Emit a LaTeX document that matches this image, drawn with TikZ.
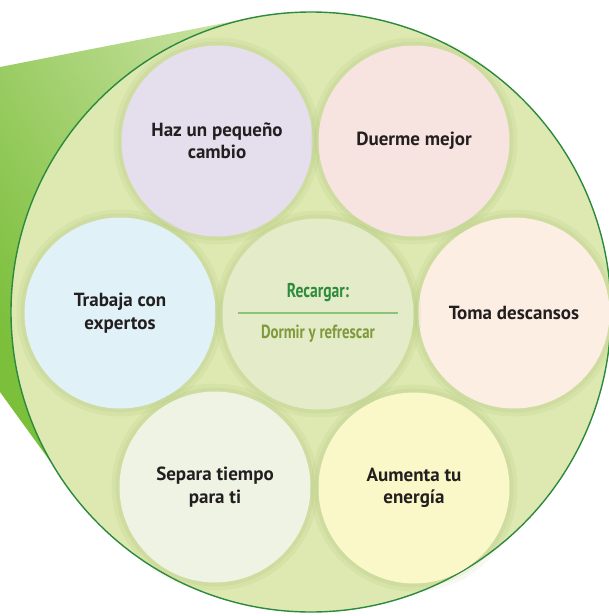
\documentclass[tikz,border=0pt]{standalone}
\usepackage{fontspec}
\setmainfont{PT Sans}
\newfontfamily\condfont{PT Sans}[FakeStretch=0.78]
\usetikzlibrary{positioning, calc}

\definecolor{poolfill}{HTML}{DDE9B0}
\definecolor{poolring}{HTML}{2B8A3E}
\definecolor{wedgedark}{HTML}{7BBF3B}
\definecolor{wedgelight}{HTML}{CDE3A6}
\definecolor{halo}{HTML}{6E8F2A}
\definecolor{lilac}{HTML}{E5DEEC}
\definecolor{rose}{HTML}{F7E4E1}
\definecolor{sky}{HTML}{E1F1F8}
\definecolor{hubfill}{HTML}{E4EBC8}
\definecolor{peach}{HTML}{FDEEE3}
\definecolor{mint}{HTML}{EEF3E4}
\definecolor{lemon}{HTML}{FAF8C8}
\definecolor{inkblack}{HTML}{231F20}
\definecolor{titlegreen}{HTML}{2D8C3C}
\definecolor{rulegreen}{HTML}{8DC277}
\definecolor{olive}{HTML}{7E9A3A}

\begin{document}
\begin{tikzpicture}[
            x=0.5pt, y=-0.5pt,
            bubble/.style={circle, minimum size=95.5pt, inner sep=2pt,
                           align=center, text=inkblack,
                           font=\bfseries\fontsize{9.5}{11.2}\selectfont,
                           preaction={draw=halo, draw opacity=0.06, line width=8pt},
                           preaction={draw=halo, draw opacity=0.07, line width=4pt}},
            pool/.style={circle, minimum size=300pt, inner sep=0pt,
                         fill=poolfill, draw=poolring, line width=0.7pt},
            hubtitle/.style={font=\condfont\bfseries\fontsize{10}{11}\selectfont, text=titlegreen},
            hubsub/.style={font=\condfont\bfseries\fontsize{9.5}{11}\selectfont, text=olive},
            rule/.style={draw=rulegreen, line width=0.7pt}
        ]

        \useasboundingbox (0,0) rectangle (609,616);
        \clip (0,0) rectangle (609,616);

        % ===== GREEN WEDGE BEHIND THE POOL =====
        \shade[top color=wedgedark, bottom color=wedgelight, shading angle=120]
            (0,67) -- (250,18) -- (311,312) -- (55,468) -- (0,392) -- cycle;

        % ===== BIG CIRCLE =====
        \node[pool] (pool) at (311,312) {};

        % ===== OUTER BUBBLES =====
        \node[bubble, fill=lilac] (change) at (217,141) {Haz un pequeño\\cambio};
        \node[bubble, fill=rose] (sleep) at (414,141) {Duerme mejor};
        \node[bubble, fill=sky] (experts) at (120,313) {Trabaja con\\expertos};
        \node[bubble, fill=peach] (breaks) at (514,313) {Toma descansos};
        \node[bubble, fill=mint] (metime) at (215,487) {Separa tiempo\\para ti};
        \node[bubble, fill=lemon] (energy) at (414,488) {Aumenta tu\\energía};

        % ===== CENTRE BUBBLE =====
        \node[bubble, fill=hubfill] (hub) at (318,314) {};
        \node[hubtitle, anchor=base] (recharge) at ($(hub)+(0,-17)$) {Recargar:};
        \node[hubsub, anchor=base] (refresh) at ($(hub)+(0,24)$) {Dormir y refrescar};
        \draw[rule] ($(hub)+(-80,-1)$) -- ($(hub)+(80,-1)$);

        \end{tikzpicture}
\end{document}
